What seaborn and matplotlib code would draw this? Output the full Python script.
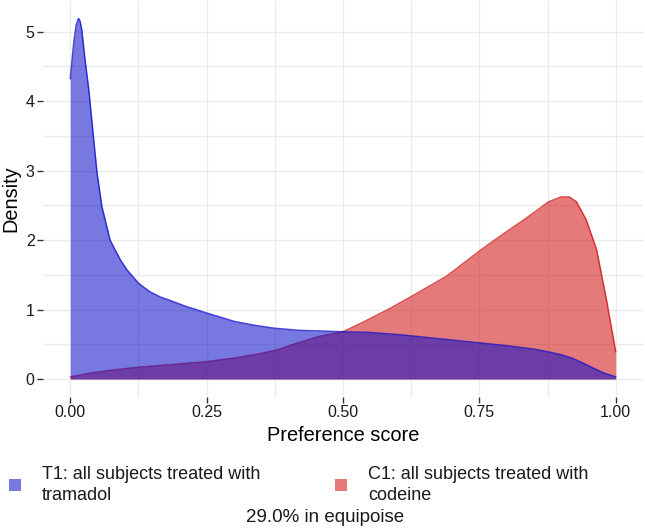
import numpy as np
import pandas as pd
import seaborn as sns
import matplotlib.pyplot as plt
from matplotlib.patches import Patch
from matplotlib.ticker import MultipleLocator

# density curves
score_t1 = [0.000, 0.004, 0.007, 0.011, 0.015, 0.018, 0.021, 0.027, 0.034, 0.043,
            0.049, 0.058, 0.073, 0.082, 0.093, 0.104, 0.125, 0.145, 0.165, 0.183,
            0.210, 0.250, 0.300, 0.340, 0.375, 0.420, 0.460, 0.500, 0.550, 0.600,
            0.626, 0.700, 0.750, 0.800, 0.850, 0.877, 0.900, 0.920, 0.940, 0.958,
            0.980, 1.000]
density_t1 = [4.32, 4.65, 4.88, 5.10, 5.19, 5.15, 5.03, 4.60, 4.16, 3.44,
              2.97, 2.48, 2.00, 1.86, 1.70, 1.57, 1.38, 1.26, 1.18, 1.13,
              1.05, 0.95, 0.83, 0.77, 0.73, 0.70, 0.69, 0.68, 0.67, 0.64,
              0.62, 0.56, 0.52, 0.48, 0.43, 0.39, 0.35, 0.30, 0.23, 0.16,
              0.08, 0.03]

score_c1 = [0.000, 0.020, 0.040, 0.080, 0.125, 0.190, 0.250, 0.300, 0.345, 0.380,
            0.406, 0.430, 0.455, 0.500, 0.535, 0.585, 0.626, 0.690, 0.750, 0.769,
            0.800, 0.837, 0.877, 0.900, 0.915, 0.928, 0.946, 0.965, 0.983, 1.000]
density_c1 = [0.03, 0.06, 0.09, 0.13, 0.17, 0.21, 0.25, 0.30, 0.36, 0.42,
              0.49, 0.55, 0.61, 0.68, 0.81, 1.01, 1.19, 1.48, 1.84, 1.95,
              2.12, 2.32, 2.55, 2.62, 2.62, 2.55, 2.29, 1.86, 1.14, 0.39]

group_labels = ["T1: all subjects treated with\ntramadol",
                "C1: all subjects treated with\ncodeine"]
equipoise_text = "29.0% in equipoise"
x_ticks = [0.0, 0.25, 0.5, 0.75, 1.0]
x_tick_labels = ["0.00", "0.25", "0.50", "0.75", "1.00"]
y_ticks = [0, 1, 2, 3, 4, 5]

BLUE = (14 / 255, 14 / 255, 202 / 255)
RED = (209 / 255, 18 / 255, 18 / 255)


def main():
    sns.set_theme(style="whitegrid")
    plt.rcParams['font.family'] = ['Liberation Sans', 'DejaVu Sans']

    t1 = pd.DataFrame({"score": score_t1, "density": density_t1})
    c1 = pd.DataFrame({"score": score_c1, "density": density_c1})

    fig = plt.figure(figsize=(6.45, 5.32), dpi=100)
    ax = fig.add_axes([43 / 645, 135 / 532, 600 / 645, 396 / 532])
    ax.set_facecolor("white")

    # red first, blue drawn on top
    ax.fill_between(c1["score"], c1["density"], color=RED, alpha=0.56, lw=0, zorder=2)
    sns.lineplot(data=c1, x="score", y="density", color=RED, alpha=0.75, lw=1.1,
                 estimator=None, ax=ax, zorder=3)
    ax.fill_between(t1["score"], t1["density"], color=BLUE, alpha=0.56, lw=0, zorder=4)
    sns.lineplot(data=t1, x="score", y="density", color=BLUE, alpha=0.75, lw=1.1,
                 estimator=None, ax=ax, zorder=5)

    ax.set_xlim(-0.05, 1.05)
    ax.set_ylim(-0.259, 5.44)
    ax.set_xticks(x_ticks)
    ax.set_xticklabels(x_tick_labels)
    ax.set_yticks(y_ticks)
    ax.xaxis.set_minor_locator(MultipleLocator(0.125))
    ax.yaxis.set_minor_locator(MultipleLocator(0.5))
    ax.grid(which="major", color="#ebebeb", lw=1.0)
    ax.grid(which="minor", color="#ebebeb", lw=1.0)
    ax.set_axisbelow(True)
    for s in ax.spines.values():
        s.set_visible(False)
    ax.tick_params(which="major", length=4, width=1, color="#333333",
                   labelsize=11.5, labelcolor="#1a1a1a", pad=2, bottom=True, left=True)
    ax.tick_params(which="minor", length=0)

    ax.set_xlabel("Preference score", fontsize=14.4, color="black", labelpad=4)
    ax.set_ylabel("Density", fontsize=14.3, color="black", labelpad=4)

    colors = [BLUE, RED]
    anchors = [9 / 645, 335 / 645]
    for label, col, xa in zip(group_labels, colors, anchors):
        handle = Patch(facecolor=col, alpha=0.56, edgecolor="none")
        leg = fig.legend(handles=[handle], labels=[label], loc="center left",
                         bbox_to_anchor=(xa, (532 - 485) / 532), frameon=False,
                         borderpad=0, borderaxespad=0, handlelength=0.64,
                         handleheight=0.64, handletextpad=1.2,
                         prop={"size": 13})
        for t in leg.get_texts():
            t.set_linespacing(1.25)
            t.set_color("#1a1a1a")

    fig.text(325 / 645, (532 - 517) / 532, equipoise_text, ha="center", va="center",
             fontsize=13.5, color="#1a1a1a")

    fig.savefig("out.png", dpi=100)
    plt.close(fig)


if __name__ == "__main__":
    main()
